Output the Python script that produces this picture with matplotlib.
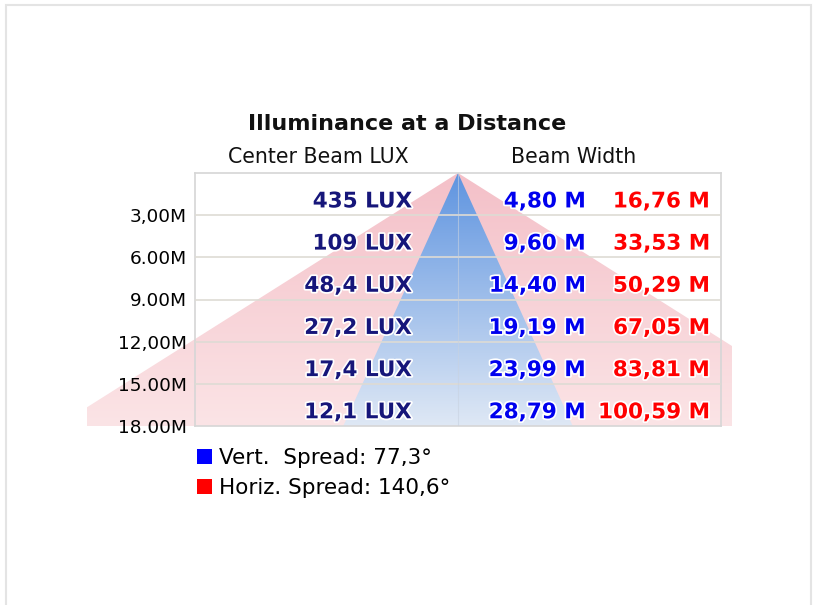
import numpy as np
import matplotlib
matplotlib.use("Agg")
import matplotlib.pyplot as plt
import matplotlib.patheffects as pe
from matplotlib.patches import Polygon, Rectangle, Patch
from matplotlib.transforms import Bbox, TransformedBbox, blended_transform_factory
from matplotlib.colors import to_rgba

# data
distances = [3, 6, 9, 12, 15, 18]  # metres
dist_labels = ["3,00M", "6.00M", "9.00M", "12,00M", "15.00M", "18.00M"]
lux_labels = ["435 LUX", "109 LUX", "48,4 LUX", "27,2 LUX", "17,4 LUX", "12,1 LUX"]
vert_width = ["4,80 M", "9,60 M", "14,40 M", "19,19 M", "23,99 M", "28,79 M"]
horiz_width = ["16,76 M", "33,53 M", "50,29 M", "67,05 M", "83,81 M", "100,59 M"]
vert_spread = 77.3   # degrees
horiz_spread = 140.6  # degrees

max_d = distances[-1]
x_half = 33  # half width of the plot in metres


def gradient(top, bottom, n=256):
    c0 = np.array(to_rgba(top))
    c1 = np.array(to_rgba(bottom))
    t = np.linspace(0, 1, n)[:, None]
    return (c0 + (c1 - c0) * t).reshape(n, 1, 4)


def beam(ax, spread, top, bottom, clip_box, z):
    half = max_d * np.tan(np.radians(spread / 2))
    tri = Polygon([[0, 0], [-half, max_d], [half, max_d]], closed=True,
                  facecolor="none", edgecolor="none", transform=ax.transData)
    ax.add_patch(tri)
    im = ax.imshow(gradient(top, bottom), extent=(-half, half, max_d, 0),
                   origin="upper", aspect="auto", zorder=z, interpolation="bilinear")
    im.set_clip_path(tri)
    im.set_clip_box(clip_box)


def comma(v):
    return f"{v:.1f}".replace(".", ",")


fig = plt.figure(figsize=(8.14, 6.05), dpi=100)
fig.patches.append(Rectangle((6 / 814, -0.02), 805 / 814, 1 - 5 / 605 + 0.02,
                             transform=fig.transFigure, facecolor="none",
                             edgecolor="#e4e4e4", linewidth=1.5))

ax = fig.add_axes([195 / 814, 1 - 426 / 605, 526 / 814, 253 / 605])
ax.set_facecolor("white")

# pink (horizontal) beam spills a little outside the box
wide_box = TransformedBbox(Bbox([[-0.205, 0.0], [1.02, 1.0]]), ax.transAxes)
beam(ax, horiz_spread, "#f4c0c8", "#fbe4e6", wide_box, 1)
beam(ax, vert_spread, "#5e94e0", "#dfe8f5", ax.bbox, 2)

ax.set_xlim(-x_half, x_half)
ax.set_ylim(max_d, 0)

for d in distances[:-1]:
    ax.axhline(d, color="#dedbd4", linewidth=1.2, zorder=3)
ax.axvline(0, color="#c8d2e0", linewidth=0.8, alpha=0.6, zorder=3)

for s in ax.spines.values():
    s.set_color("#d6d6d6")
    s.set_linewidth(1.2)

ax.set_xticks([])
ax.set_yticks(distances)
ax.set_yticklabels(dist_labels, fontsize=13.3)
ax.tick_params(axis="y", length=0, pad=6)

halo = [pe.withStroke(linewidth=2.5, foreground="white")]
trans = blended_transform_factory(ax.transAxes, ax.transData)
for d, lux, vw, hw in zip(distances, lux_labels, vert_width, horiz_width):
    y = d - 0.55
    ax.text(0.4125, y, lux, transform=trans, ha="right", va="baseline",
            fontsize=15.5, fontweight="bold", color="#16167a", zorder=5, path_effects=halo)
    ax.text(0.743, y, vw, transform=trans, ha="right", va="baseline",
            fontsize=15.5, fontweight="bold", color="#0000ee", zorder=5, path_effects=halo)
    ax.text(0.979, y, hw, transform=trans, ha="right", va="baseline",
            fontsize=15.5, fontweight="bold", color="#ff0000", zorder=5, path_effects=halo)

ax.text(0.234, 1.063, "Center Beam LUX", transform=ax.transAxes, ha="center", va="center",
        fontsize=14.8, color="#111111")
ax.text(0.719, 1.063, "Beam Width", transform=ax.transAxes, ha="center", va="center",
        fontsize=14.8, color="#111111")

fig.text(0.5, 1 - 124 / 605, "Illuminance at a Distance", ha="center", va="center",
         fontsize=16, fontweight="bold", color="#111111")

handles = [Patch(facecolor="#0000ff", edgecolor="none"),
           Patch(facecolor="#ff0000", edgecolor="none")]
labels = [f"Vert.  Spread: {comma(vert_spread)}°",
          f"Horiz. Spread: {comma(horiz_spread)}°"]
ax.legend(handles, labels, loc="upper left", bbox_to_anchor=(0.004, -0.088),
          frameon=False, fontsize=15.5, handlelength=0.7, handleheight=0.7,
          handletextpad=0.3, borderaxespad=0, borderpad=0, labelspacing=0.45)

fig.savefig("out.png", dpi=100)
